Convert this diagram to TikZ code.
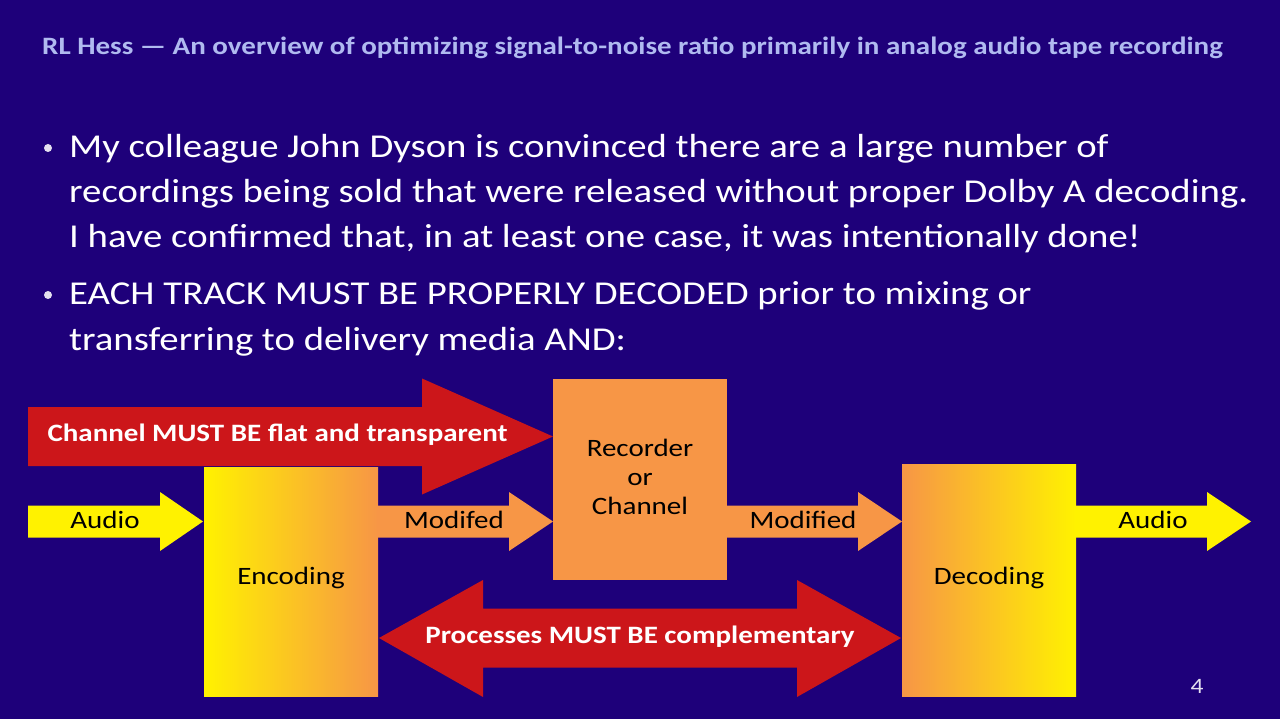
\documentclass[tikz,border=0pt]{standalone}
\usepackage{fontspec}
\setmainfont{Carlito}[FakeStretch=1.16]
\definecolor{bg}{RGB}{30,0,122}
\definecolor{titlec}{RGB}{176,186,240}
\definecolor{redA}{RGB}{204,22,26}
\definecolor{orangeA}{RGB}{247,150,70}
\definecolor{yellowA}{RGB}{255,242,0}
\tikzset{
  bullettext/.style={anchor=base west, inner sep=0pt, text=white, font=\fontsize{33.4}{40}\selectfont},
  boxlabel/.style={inner sep=0pt, text=black, font=\fontsize{25}{29}\selectfont, align=center},
  arrowlabel/.style={inner sep=0pt, text=black, font=\fontsize{25}{29}\selectfont},
  redlabel/.style={inner sep=0pt, text=white, font=\bfseries\fontsize{25}{29}\selectfont},
}
% right pointing block arrow: x0, head base x, tip x, center y, shaft half, head half
\newcommand{\rarrowshape}[6]{(#1,#4-#5) -- (#2,#4-#5) -- (#2,#4-#6) -- (#3,#4) -- (#2,#4+#6) -- (#2,#4+#5) -- (#1,#4+#5) -- cycle}
\begin{document}
\begin{tikzpicture}[x=1pt,y=-1pt]
\fill[bg] (0,0) rectangle (1280,719);
\useasboundingbox (0,0) rectangle (1280,719);

% title
\node[anchor=base west, inner sep=0pt, text=titlec, font=\bfseries\fontsize{25}{30}\selectfont] (title) at (42,55)
  {RL Hess — An overview of optimizing signal-to-noise ratio primarily in analog audio tape recording};

% bullets
\fill[white!88!bg] (48,148) circle (4) coordinate (b1);
\fill[white!88!bg] (48,295) circle (4) coordinate (b2);
\node[bullettext] (l1) at (69,157.5) {My colleague John Dyson is convinced there are a large number of};
\node[bullettext] (l2) at (69,202.5) {recordings being sold that were released without proper Dolby A decoding.};
\node[bullettext] (l3) at (69,247.5) {I have confirmed that, in at least one case, it was intentionally done!};
\node[bullettext] (l4) at (69,305) {EACH TRACK MUST BE PROPERLY DECODED prior to mixing or};
\node[bullettext] (l5) at (69,350) {transferring to delivery media AND:};

% boxes
\path[left color=yellowA, right color=orangeA] (204,467) rectangle (378,696);
\node[boxlabel] (enc) at (291,578) {Encoding};
\path[left color=orangeA, right color=yellowA] (902,464) rectangle (1076,696);
\node[boxlabel] (dec) at (989,578) {Decoding};
\fill[orangeA] (553,379) rectangle (727,580);
\node[boxlabel] (rec) at (640,477) {Recorder\\or\\Channel};

% top red arrow
\fill[redA] \rarrowshape{28}{422}{553}{436.5}{29.5}{58};
\node[redlabel] (redtop) at (277.5,435) {Channel MUST BE flat and transparent};

% yellow / orange flow arrows
\fill[yellowA] \rarrowshape{28}{160}{203}{521.5}{16}{29.5};
\node[arrowlabel] (ain) at (105,520) {Audio};
\fill[orangeA] \rarrowshape{377}{509}{553}{521.5}{16}{29.5};
\node[arrowlabel] (m1) at (454,520) {Modifed};
\fill[orangeA] \rarrowshape{726}{858}{902}{521.5}{16}{29.5};
\node[arrowlabel] (m2) at (803,520) {Modified};
\fill[yellowA] \rarrowshape{1075}{1207}{1251}{521.5}{16}{29.5};
\node[arrowlabel] (aout) at (1153,520) {Audio};

% bottom double red arrow
\fill[redA] (379,638) -- (483,580) -- (483,608.5) -- (797,608.5) -- (797,580) -- (901,638)
  -- (797,697) -- (797,667.5) -- (483,667.5) -- (483,697) -- cycle;
\node[redlabel] (redbot) at (640,637) {Processes MUST BE complementary};

% page number
\node[inner sep=0pt, text=white!88!bg, font=\fontsize{22}{26}\selectfont] (pg) at (1197,686) {4};
\end{tikzpicture}
\end{document}
